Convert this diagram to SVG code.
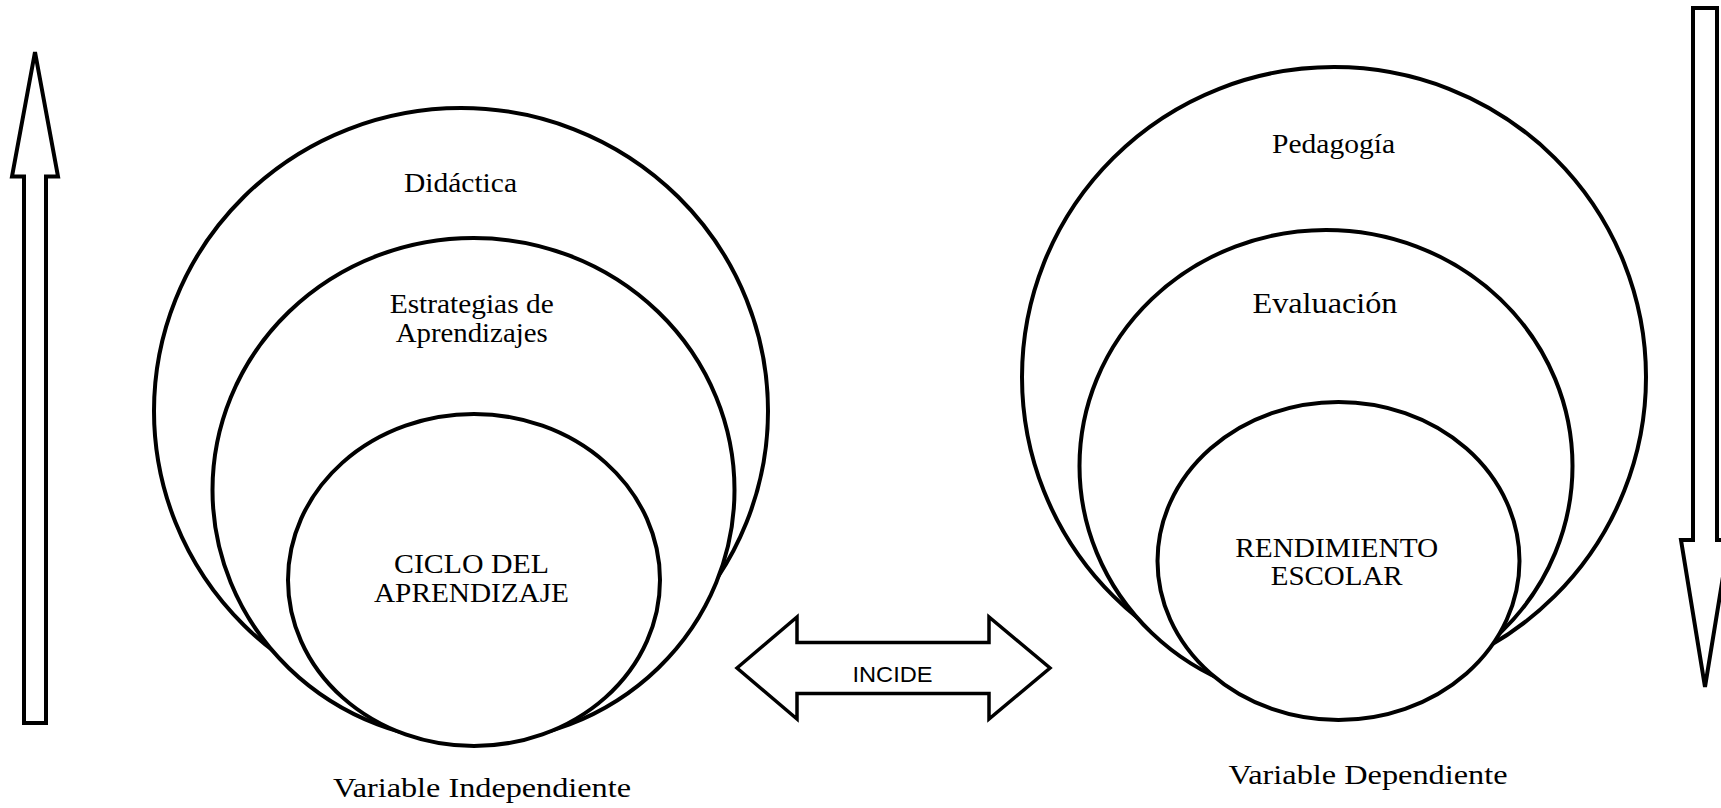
<svg xmlns="http://www.w3.org/2000/svg" width="1721" height="808" viewBox="0 0 1721 808">
<style>
.ring{fill:#fff;stroke:#000;stroke-width:4}
.shape{fill:#fff;stroke:#000;stroke-width:4;stroke-linejoin:miter}
.t{font-family:"Liberation Serif","Times New Roman",serif;font-size:28px;fill:#000;text-anchor:middle}
.s{font-family:"Liberation Sans",Arial,sans-serif;font-size:22px;fill:#000;text-anchor:middle}
</style>
<rect width="1721" height="808" fill="#fff"/>
<g id="connectors">
<polygon class="shape" points="35,52 58,176.5 46,176.5 46,723 24,723 24,176.5 12,176.5"/>
<polygon class="shape" points="1693,8 1717,8 1717,540 1729,540 1705,687 1681,540 1693,540"/>
<polygon class="shape" style="stroke-width:3.5" points="737,668 797,617 797,642.5 989,642.5 989,617 1050,668 989,719 989,693.5 797,693.5 797,719"/>
<text class="s" x="892.5" y="681.7" textLength="80" lengthAdjust="spacingAndGlyphs">INCIDE</text>
</g>
<g id="didactica">
<ellipse class="ring" cx="461" cy="411" rx="307" ry="303"/>
<text class="t" x="460.5" y="191.7" textLength="113" lengthAdjust="spacingAndGlyphs">Didáctica</text>
</g>
<g id="estrategias">
<ellipse class="ring" cx="473.5" cy="490" rx="261" ry="252"/>
<text class="t" x="471.7" y="313" textLength="164" lengthAdjust="spacingAndGlyphs">Estrategias de</text>
<text class="t" x="471.7" y="341.7" textLength="152" lengthAdjust="spacingAndGlyphs">Aprendizajes</text>
</g>
<g id="ciclo">
<ellipse class="ring" cx="474" cy="580" rx="186" ry="166"/>
<text class="t" x="471.5" y="572.7" textLength="155" lengthAdjust="spacingAndGlyphs">CICLO DEL</text>
<text class="t" x="471.5" y="601.7" textLength="195" lengthAdjust="spacingAndGlyphs">APRENDIZAJE</text>
</g>
<g id="pedagogia">
<ellipse class="ring" cx="1334" cy="377" rx="312" ry="310"/>
<text class="t" x="1333.5" y="153" textLength="123" lengthAdjust="spacingAndGlyphs">Pedagogía</text>
</g>
<g id="evaluacion">
<ellipse class="ring" cx="1326" cy="466" rx="246.5" ry="236"/>
<text class="t" style="font-size:30px" x="1325" y="313" textLength="145" lengthAdjust="spacingAndGlyphs">Evaluación</text>
</g>
<g id="rendimiento">
<ellipse class="ring" cx="1338.5" cy="561" rx="181" ry="159"/>
<text class="t" x="1336.7" y="556.7" textLength="203" lengthAdjust="spacingAndGlyphs">RENDIMIENTO</text>
<text class="t" x="1336.7" y="585" textLength="132" lengthAdjust="spacingAndGlyphs">ESCOLAR</text>
</g>
<g id="label-independiente">
<text class="t" x="482" y="796.7" textLength="298" lengthAdjust="spacingAndGlyphs">Variable Independiente</text>
</g>
<g id="label-dependiente">
<text class="t" x="1368" y="784" textLength="279" lengthAdjust="spacingAndGlyphs">Variable Dependiente</text>
</g>
</svg>
